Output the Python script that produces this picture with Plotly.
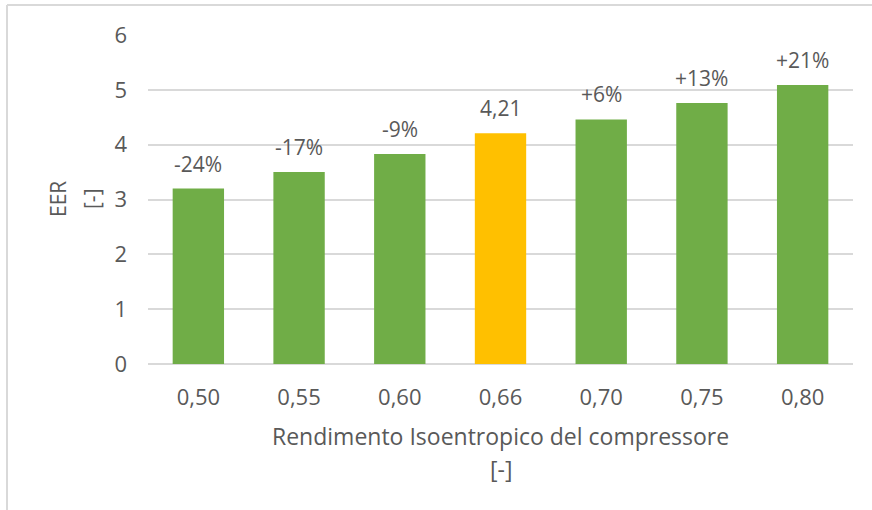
import plotly.graph_objects as go

# Isentropic efficiency of the compressor (category labels) and resulting EER
efficiency = ["0,50", "0,55", "0,60", "0,66", "0,70", "0,75", "0,80"]
eer = [3.20, 3.50, 3.83, 4.21, 4.46, 4.76, 5.09]
labels = ["-24%", "-17%", "-9%", "4,21", "+6%", "+13%", "+21%"]
reference_case = "0,66"

GREEN = "#70ad47"
GOLD = "#ffc000"
GREY_TEXT = "#595959"
GRID = "#d9d9d9"
FONT = "Open Sans, Liberation Sans, sans-serif"
FS_LABEL = 21
FS_TICK = 22
FS_TITLE = 23

colors = [GOLD if e == reference_case else GREEN for e in efficiency]

W, H = 872, 510
L, R, T, B = 148, 19, 35, 146
pw = W - L - R
ph = H - T - B


def px_to_paper_x(px):
    return (px - L) / pw


def px_to_paper_y(py):
    return (H - B - py) / ph


fig = go.Figure(
    go.Bar(
        x=efficiency,
        y=eer,
        marker=dict(color=colors, line=dict(width=0)),
        hoverinfo="x+y",
    )
)

# value / percentage labels above each bar
for cat, val, lab in zip(efficiency, eer, labels):
    fig.add_annotation(
        x=cat, y=val, text=lab, showarrow=False,
        xanchor="center", yanchor="middle", yshift=25,
        font=dict(size=FS_LABEL, color=GREY_TEXT, family=FONT),
    )

# axis titles
fig.add_annotation(
    xref="paper", yref="paper", x=0.5, y=px_to_paper_y(436),
    text="Rendimento Isoentropico del compressore", showarrow=False,
    xanchor="center", yanchor="middle", font=dict(size=FS_TITLE, color=GREY_TEXT, family=FONT),
)
fig.add_annotation(
    xref="paper", yref="paper", x=0.5, y=px_to_paper_y(469),
    text="[-]", showarrow=False,
    xanchor="center", yanchor="middle", font=dict(size=FS_TITLE, color=GREY_TEXT, family=FONT),
)
fig.add_annotation(
    xref="paper", yref="paper", x=px_to_paper_x(58), y=px_to_paper_y(199),
    text="EER", showarrow=False, textangle=-90,
    xanchor="center", yanchor="middle", font=dict(size=FS_LABEL, color=GREY_TEXT, family=FONT),
)
fig.add_annotation(
    xref="paper", yref="paper", x=px_to_paper_x(92), y=px_to_paper_y(199),
    text="[-]", showarrow=False, textangle=-90,
    xanchor="center", yanchor="middle", font=dict(size=FS_LABEL, color=GREY_TEXT, family=FONT),
)

# chart frame (top and left edges visible)
fx0 = px_to_paper_x(7)
fy1 = px_to_paper_y(5)
fy0 = px_to_paper_y(515)
fig.add_shape(type="line", xref="paper", yref="paper", x0=fx0, x1=px_to_paper_x(880),
              y0=fy1, y1=fy1, line=dict(color=GRID, width=2))
fig.add_shape(type="line", xref="paper", yref="paper", x0=fx0, x1=fx0,
              y0=fy0, y1=fy1, line=dict(color=GRID, width=2))

fig.update_layout(
    width=W,
    height=H,
    margin=dict(l=L, r=R, t=T, b=B),
    paper_bgcolor="white",
    plot_bgcolor="white",
    bargap=0.49,
    showlegend=False,
    font=dict(family=FONT, color=GREY_TEXT, size=FS_TICK),
    xaxis=dict(
        type="category",
        showline=False,
        showgrid=False,
        ticks="",
        ticklabelstandoff=18,
        tickfont=dict(size=FS_TICK, color=GREY_TEXT),
    ),
    yaxis=dict(
        range=[0, 6],
        dtick=1,
        showgrid=True,
        gridcolor=GRID,
        gridwidth=1.5,
        zeroline=True,
        zerolinecolor=GRID,
        zerolinewidth=1.5,
        showline=False,
        ticks="",
        ticklabelstandoff=20,
        tickfont=dict(size=FS_TICK, color=GREY_TEXT),
    ),
)

fig.write_html("out.html")
